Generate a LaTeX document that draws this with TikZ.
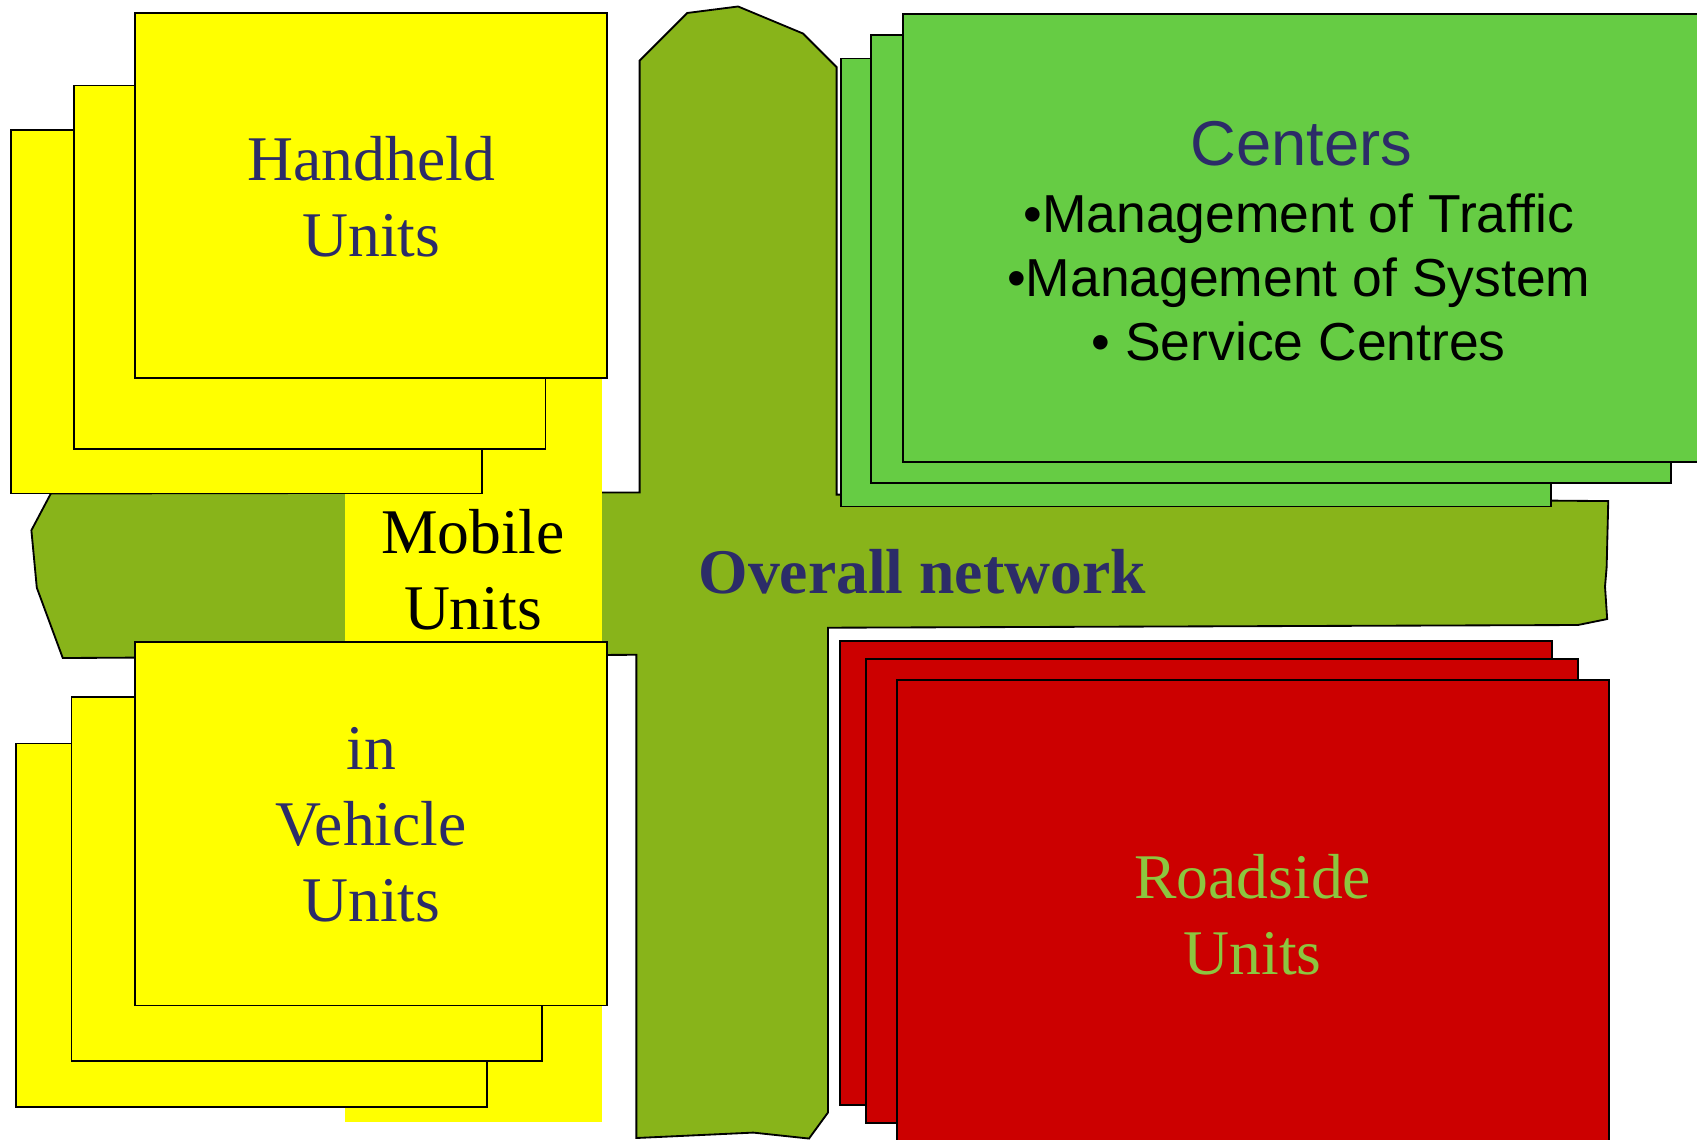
\documentclass[tikz,border=0pt]{standalone}
\usepackage{fontspec}
\setmainfont{Liberation Serif}
\setsansfont{Liberation Sans}

\definecolor{netgreen}{RGB}{136,180,26}
\definecolor{centergreen}{RGB}{102,204,68}
\definecolor{unityellow}{RGB}{255,255,0}
\definecolor{roadred}{RGB}{204,0,0}
\definecolor{textnavy}{RGB}{44,44,104}
\definecolor{roadtext}{RGB}{140,198,63}

\begin{document}
\begin{tikzpicture}[x=0.5pt,y=-0.5pt,
  box/.style={draw=black,line width=0.85pt},
  serif/.style={font=\fontsize{29.4}{35}\selectfont,align=center}]
\useasboundingbox (0,0) rectangle (1568,1053);
\clip (0,0) rectangle (1568,1053);
% overall network
\draw[box,fill=netgreen] (591,56) -- (635,12) -- (682,6) -- (742,31) -- (773,62)
  -- (773,457) -- (1486,463) -- (1484.5,524) -- (1483,542) -- (1485,572) -- (1458,577.5)
  -- (765,580) -- (765,1028) -- (747.5,1052) -- (696,1046.5) -- (588,1051.5)
  -- (588,605) -- (58,608) -- (34,543) -- (29,490) -- (47,456) -- (591,455) -- cycle;
\fill[unityellow] (319,300) rectangle (556,1037);
% handheld
\draw[box,fill=unityellow] (10,120) rectangle (445,456);
\draw[box,fill=unityellow] (68,79) rectangle (504,415);
\draw[box,fill=unityellow] (125,12) rectangle (561,349);
% in vehicle
\draw[box,fill=unityellow] (15,687) rectangle (450,1023);
\draw[box,fill=unityellow] (66,644) rectangle (501,980);
\draw[box,fill=unityellow] (125,593) rectangle (561,929);
% centers
\draw[box,fill=centergreen] (777,54) rectangle (1433,468);
\draw[box,fill=centergreen] (805,32) rectangle (1544,446);
\draw[box,fill=centergreen] (834,13) rectangle (1620,427);
% roadside
\draw[box,fill=roadred] (776,592) rectangle (1434,1021);
\draw[box,fill=roadred] (800,609) rectangle (1458,1038);
\draw[box,fill=roadred] (829,628) rectangle (1487,1100);

\node[serif,text=textnavy] (handheld) at (343,181.5) {Handheld\\Units};
\node[serif] (mobile) at (437,526.5) {Mobile\\Units};
\node[serif,text=textnavy] (vehicle) at (343,762) {in\\Vehicle\\Units};
\node[serif,text=roadtext] (roadside) at (1157.5,845) {Roadside\\Units};
\node[font=\bfseries\fontsize{29.4}{35}\selectfont,text=textnavy] (network) at (852,528) {Overall network};
\node[font=\sffamily\fontsize{29.25}{35}\selectfont,text=textnavy] (centers) at (1202.5,132.5) {Centers};
\node[font=\sffamily\fontsize{24.7}{29.5}\selectfont,align=center] (tasks) at (1200,256.5)
  {•Management of Traffic\\•Management of System\\• Service Centres};
\end{tikzpicture}
\end{document}
